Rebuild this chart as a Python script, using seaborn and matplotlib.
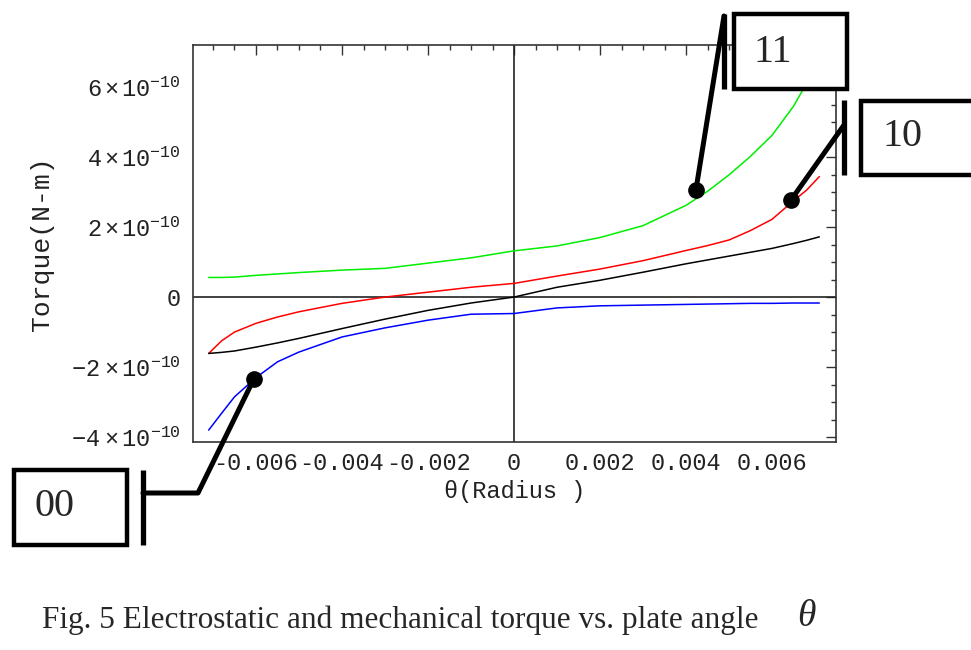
import numpy as np
import pandas as pd
import matplotlib
matplotlib.use("Agg")
import matplotlib.pyplot as plt
import seaborn as sns
from matplotlib.ticker import FixedLocator, MultipleLocator, FuncFormatter
from matplotlib.patches import Rectangle

# ---- data (torque in units of 1e-10 N-m) ----
theta = [-0.0071, -0.0068, -0.0065, -0.006, -0.0055, -0.005, -0.004, -0.003, -0.002, -0.001, 0.0,
         0.001, 0.002, 0.003, 0.004, 0.0045, 0.005, 0.0055, 0.006, 0.0065, 0.0068, 0.0071]
torque_11 = [0.56, 0.56, 0.57, 0.62, 0.66, 0.70, 0.77, 0.82, 0.97, 1.12, 1.32,
             1.46, 1.70, 2.04, 2.62, 3.02, 3.49, 4.02, 4.62, 5.45, 6.10, 6.90]
torque_10 = [-1.61, -1.25, -1.00, -0.75, -0.57, -0.42, -0.18, 0.00, 0.14, 0.28, 0.39,
             0.60, 0.80, 1.04, 1.33, 1.47, 1.63, 1.90, 2.22, 2.75, 3.05, 3.44]
torque_mech = [-1.61, -1.58, -1.54, -1.43, -1.31, -1.18, -0.90, -0.63, -0.38, -0.17, 0.00,
               0.28, 0.48, 0.71, 0.95, 1.06, 1.17, 1.28, 1.39, 1.53, 1.62, 1.72]
torque_00 = [-3.80, -3.32, -2.85, -2.30, -1.85, -1.57, -1.14, -0.88, -0.66, -0.49, -0.47,
             -0.31, -0.25, -0.23, -0.21, -0.20, -0.19, -0.18, -0.18, -0.17, -0.17, -0.17]
series_names = ["11", "10", "mech", "00"]
series_colors = ["#00ee00", "#ff0000", "#000000", "#0000ff"]
x_ticks = [-0.006, -0.004, -0.002, 0.0, 0.002, 0.004, 0.006]
x_tick_labels = ["-0.006", "-0.004", "-0.002", "0", "0.002", "0.004", "0.006"]
y_ticks = [-4, -2, 0, 2, 4, 6]
box_labels = ["11", "10", "00"]
caption = "Fig. 5 Electrostatic and mechanical torque vs. plate angle"

scale = 1e-10
frames = []
for name, vals in zip(series_names, [torque_11, torque_10, torque_mech, torque_00]):
    frames.append(pd.DataFrame({"theta": theta, "torque": np.array(vals) * scale, "series": name}))
df = pd.concat(frames, ignore_index=True)

sns.set_style("white")
plt.rcParams.update({
    "font.family": ["Liberation Mono", "DejaVu Sans"],
    "mathtext.fontset": "custom",
    "mathtext.rm": "Liberation Mono",
    "mathtext.it": "Liberation Mono",
    "axes.unicode_minus": False,
})

W, H = 971, 650
fig = plt.figure(figsize=(W / 100, H / 100), dpi=100)
fig.patch.set_facecolor("white")
ax = fig.add_axes([193 / W, 1 - 442 / H, (836 - 193) / W, (442 - 45) / H])

sns.lineplot(data=df, x="theta", y="torque", hue="series", hue_order=series_names,
             palette=series_colors, legend=False, linewidth=1.1, ax=ax, zorder=3)

ax.axhline(0, color="#222222", lw=1.2, zorder=2)
ax.axvline(0, color="#222222", lw=1.2, zorder=2)

ax.set_xlim(-0.007465, 0.007488)
ax.set_ylim(-4.14e-10, 7.2e-10)

ax.xaxis.set_major_locator(FixedLocator(x_ticks))
ax.set_xticklabels(x_tick_labels)
ax.xaxis.set_minor_locator(MultipleLocator(0.0005))

def yfmt(v, pos):
    n = int(round(v / scale))
    if n == 0:
        return "0"
    if n < 0:
        return r"$-%d\,\times10^{-10}$" % abs(n)
    return r"$%d\times10^{-10}$" % n

ax.yaxis.set_major_locator(FixedLocator([t * scale for t in y_ticks]))
ax.yaxis.set_major_formatter(FuncFormatter(yfmt))
ax.yaxis.set_minor_locator(MultipleLocator(0.5e-10))

ax.tick_params(which="both", direction="in", top=True, right=True, color="#333333", width=1.0)
ax.tick_params(which="major", length=7)
ax.tick_params(which="minor", length=3.5)
ax.tick_params(axis="x", which="major", labelsize=17, pad=7, labelcolor="#222222")
ax.tick_params(axis="y", which="major", labelsize=17, pad=9, labelcolor="#222222")

ax.set_xlabel("θ(Radius )", fontsize=17, labelpad=4, color="#222222")
ax.set_ylabel("Torque(N-m)", fontsize=19, labelpad=12, color="#222222")
for s in ax.spines.values():
    s.set_visible(True)
    s.set_color("#333333")
    s.set_linewidth(1.2)

# ---- annotation overlay (figure pixel coordinates) ----
ov = fig.add_axes([0, 0, 1, 1], zorder=10)
ov.set_xlim(0, W)
ov.set_ylim(H, 0)
ov.axis("off")
ov.patch.set_alpha(0)

def to_px(x, y):
    dx, dy = ax.transData.transform((x, y))
    return dx, H - dy

dots = [to_px(0.00423, 3.06e-10), to_px(0.00644, 2.77e-10), to_px(-0.00605, -2.34e-10)]
serif = ["Liberation Serif", "DejaVu Serif"]
box_lw = 3.2
bar_lw = 3.8
lead_lw = 3.6

# box 11
ov.add_patch(Rectangle((734, 14), 113, 75, fill=True, facecolor="white", edgecolor="black", lw=box_lw, zorder=5))
ov.text(773, 52, box_labels[0], fontsize=29, family=serif, ha="center", va="center", zorder=6)
ov.plot([724, 724], [14, 89], color="black", lw=bar_lw, solid_capstyle="butt", zorder=6)
ov.plot([724, dots[0][0]], [16, dots[0][1]], color="black", lw=lead_lw, zorder=6)
# box 10
ov.add_patch(Rectangle((861, 101), 130, 74, fill=True, facecolor="white", edgecolor="black", lw=box_lw, zorder=5))
ov.text(902, 137, box_labels[1], fontsize=29, family=serif, ha="center", va="center", zorder=6)
ov.plot([844, 844], [100, 175], color="black", lw=bar_lw, solid_capstyle="butt", zorder=6)
ov.plot([844, dots[1][0]], [125, dots[1][1]], color="black", lw=lead_lw, zorder=6)
# box 00
ov.add_patch(Rectangle((14, 470), 113, 75, fill=True, facecolor="white", edgecolor="black", lw=box_lw, zorder=5))
ov.text(54, 506, box_labels[2], fontsize=29, family=serif, ha="center", va="center", zorder=6)
ov.plot([143, 143], [470, 545], color="black", lw=bar_lw, solid_capstyle="butt", zorder=6)
ov.plot([143, 198, dots[2][0]], [493, 493, dots[2][1]], color="black", lw=lead_lw, zorder=6)

for (dx, dy) in dots:
    ov.plot(dx, dy, "o", color="black", markersize=11, zorder=7)

# caption
ov.text(42, 628, caption, fontsize=22.5, family=serif, ha="left", va="baseline", zorder=6)
ov.text(806, 626, "θ", fontsize=27, family=serif, style="italic", ha="center", va="baseline", zorder=6)

fig.savefig("out.png", dpi=100)
